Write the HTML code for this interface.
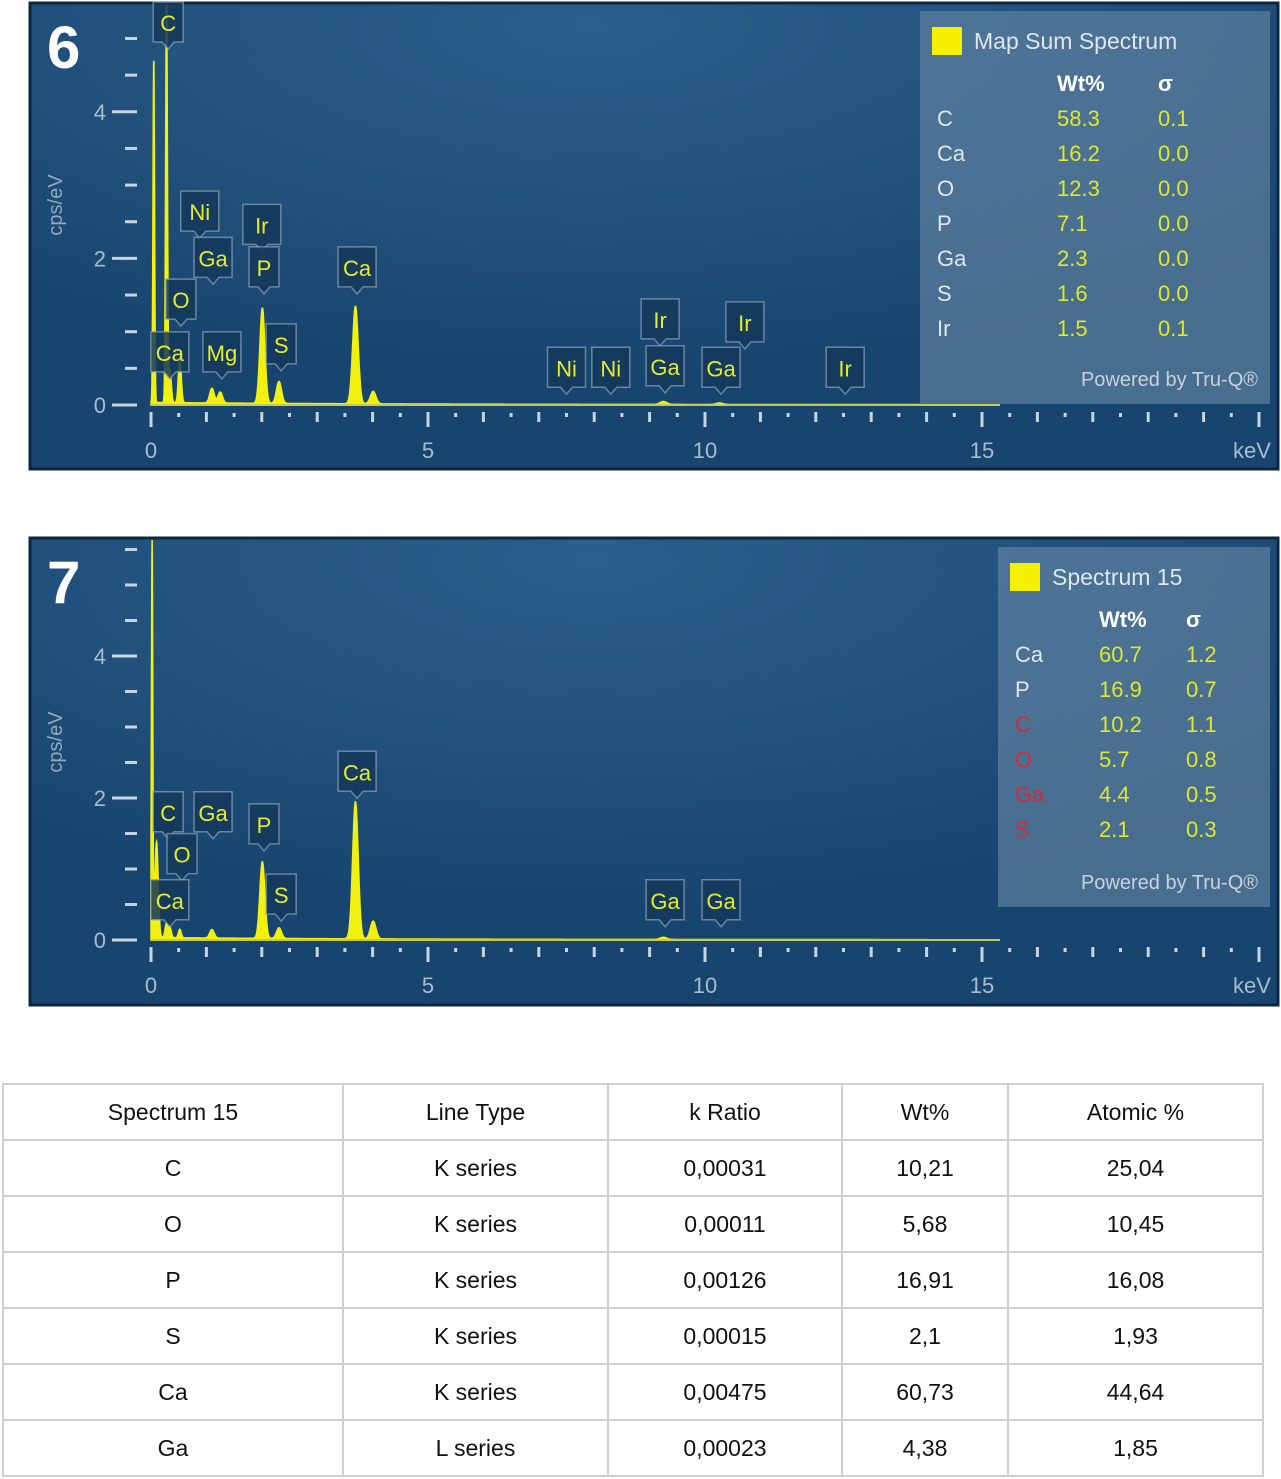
<!DOCTYPE html>
<html><head><meta charset="utf-8">
<style>
html,body{margin:0;padding:0;background:#fff;width:1281px;height:1479px;overflow:hidden;font-family:"Liberation Sans",sans-serif}
svg{position:absolute;left:0;top:0}
table{position:absolute;left:2px;top:1083px;border-collapse:collapse;font-family:"Liberation Sans",sans-serif;font-size:23px;color:#111}
td{border:2px solid #cfcfcf;text-align:center;height:54px;padding:0}
</style></head>
<body>
<svg id="chart" width="1281" height="1080"></svg>
<table>
<tr><td style="width:338px">Spectrum 15</td><td style="width:263px">Line Type</td><td style="width:232px">k Ratio</td><td style="width:164px">Wt%</td><td style="width:253px">Atomic %</td></tr>
<tr><td>C</td><td>K series</td><td>0,00031</td><td>10,21</td><td>25,04</td></tr>
<tr><td>O</td><td>K series</td><td>0,00011</td><td>5,68</td><td>10,45</td></tr>
<tr><td>P</td><td>K series</td><td>0,00126</td><td>16,91</td><td>16,08</td></tr>
<tr><td>S</td><td>K series</td><td>0,00015</td><td>2,1</td><td>1,93</td></tr>
<tr><td>Ca</td><td>K series</td><td>0,00475</td><td>60,73</td><td>44,64</td></tr>
<tr><td>Ga</td><td>L series</td><td>0,00023</td><td>4,38</td><td>1,85</td></tr>
</table>
<script>
// Panel 6 data
const p6PeakE=[0.05,0.28,0.34,0.52,1.1,1.25,2.01,2.31,3.69,4.01,9.25,10.26];
const p6PeakH=[4.7,5.6,0.45,0.6,0.2,0.15,1.3,0.3,1.33,0.17,0.04,0.02];
const p6PeakW=[0.014,0.016,0.025,0.026,0.04,0.04,0.045,0.045,0.05,0.05,0.06,0.06];
const p6LabelText=["C","Ni","Ga","Ir","P","O","Ca","Mg","S","Ca","Ni","Ni","Ir","Ga","Ga","Ir","Ir"];
const p6LabelE=[0.31,0.88,1.12,2.0,2.04,0.54,0.34,1.28,2.35,3.72,7.5,8.3,9.19,9.28,10.29,10.72,12.53];
const p6LabelV=[4.87,2.29,1.66,2.11,1.53,1.09,0.37,0.37,0.48,1.53,0.16,0.16,0.82,0.18,0.16,0.78,0.16];
const p6Elem=["C","Ca","O","P","Ga","S","Ir"];
const p6Wt=["58.3","16.2","12.3","7.1","2.3","1.6","1.5"];
const p6Sig=["0.1","0.0","0.0","0.0","0.0","0.0","0.1"];
// Panel 7 data
const p7PeakE=[0.02,0.1,0.28,0.34,0.52,1.1,2.01,2.31,3.69,4.01,9.25];
const p7PeakH=[5.6,1.35,0.2,0.15,0.12,0.12,1.08,0.15,1.93,0.25,0.03];
const p7PeakW=[0.012,0.03,0.025,0.025,0.025,0.04,0.045,0.045,0.05,0.05,0.06];
const p7LabelText=["C","Ga","P","O","Ca","S","Ca","Ga","Ga"];
const p7LabelE=[0.31,1.12,2.04,0.56,0.34,2.35,3.72,9.28,10.29];
const p7LabelV=[1.44,1.44,1.27,0.85,0.2,0.28,2.01,0.2,0.2];
const p7Elem=["Ca","P","C","O","Ga","S"];
const p7Wt=["60.7","16.9","10.2","5.7","4.4","2.1"];
const p7Sig=["1.2","0.7","1.1","0.8","0.5","0.3"];
const p7ElemRed=[false,false,true,true,true,true];
const yTickLabels=["0","2","4"];
const xTickLabels=["0","5","10","15"];

const NS="http://www.w3.org/2000/svg";
const svg=document.getElementById('chart');
function mk(tag,attrs,parent){const e=document.createElementNS(NS,tag);for(const k in attrs)e.setAttribute(k,attrs[k]);(parent||svg).appendChild(e);return e;}
const defs=mk('defs',{});
defs.innerHTML='<radialGradient id="bg" cx="0.45" cy="0.05" r="0.75"><stop offset="0" stop-color="#2c5f8c"/><stop offset="1" stop-color="#18456f"/></radialGradient>';

function panel(cfg){
  const g=mk('g',{});
  
  
  const X0=151,KX=55.4;
  const xs=e=>X0+KX*e;
  const ys=v=>cfg.y0-cfg.ky*v;
  const bg=mk('rect',{x:cfg.left,y:cfg.top,width:1248,height:cfg.h,fill:'url(#bg)',stroke:'#0e2740','stroke-width':3},g);
  
  const clipId='clip'+cfg.id;
  const cp=mk('clipPath',{id:clipId},defs);mk('rect',{x:cfg.left+2,y:cfg.top+2,width:1244,height:cfg.h-4},cp);
  for(let i=0;i<=11;i++){const v=i*0.5;const y=ys(v);if(y<cfg.top+5)continue;
    const major=i%4===0;
    mk('line',{x1:major?112:125,x2:137,y1:y,y2:y,stroke:'#c8d4de','stroke-width':3},g);}
  yTickLabels.forEach((t,i)=>{const tx=mk('text',{x:106,y:ys(i*2)+8,'text-anchor':'end','font-size':22,fill:'#a9bccc'},g);tx.textContent=t;
    });
  const yl=mk('text',{x:0,y:0,transform:`translate(62 ${cfg.yLabelY}) rotate(-90)`,'text-anchor':'middle','font-size':20,fill:'#93aabd'},g);yl.textContent='cps/eV';
  
  for(let i=0;i<=40;i++){const e=i*0.5;const x=xs(e);if(x>1272)break;
    const major=i%10===0,integ=i%2===0;
    const y2=cfg.y0+(major?22:integ?17:12);
    mk('line',{x1:x,x2:x,y1:cfg.y0+(integ?7:8),y2:y2,stroke:'#c8d4de','stroke-width':3},g);}
  xTickLabels.forEach((t,i)=>{const tx=mk('text',{x:xs(i*5),y:cfg.y0+53,'text-anchor':'middle','font-size':22,fill:'#a9bccc'},g);tx.textContent=t;
    });
  const kev=mk('text',{x:1252,y:cfg.y0+53,'text-anchor':'middle','font-size':22,fill:'#a9bccc'},g);kev.textContent='keV';
  
  let d=`M${xs(0)} ${ys(0)}`;
  for(let e=0;e<=cfg.maxE;e+=0.004){
    let v=0.03*Math.exp(-e/4)+0.005;
    for(let k=0;k<cfg.pe.length;k++){const z=(e-cfg.pe[k])/cfg.pw[k];v+=cfg.ph[k]*Math.exp(-0.5*z*z);}
    d+=`L${xs(e).toFixed(2)} ${ys(v).toFixed(2)}`;}
  d+=`L${xs(cfg.maxE)} ${ys(0)}Z`;
  const sp=mk('path',{d:d,fill:'#f2f00e',stroke:'#f2f00e','stroke-width':1.5,'clip-path':`url(#${clipId})`},g);
  
  mk('line',{x1:151,x2:1000,y1:cfg.y0,y2:cfg.y0,stroke:'#c9c94a','stroke-width':2},g);
  cfg.lt.forEach((t,i)=>{
    const cx=xs(cfg.le[i]),by=ys(cfg.lv[i]);const w=t.length>1?38:30,h=40;
    const lg=mk('g',{},g);
    
    
    mk('path',{d:`M${cx-w/2} ${by-h-6} h${w} v${h} h${-(w/2-6)} l-6 7 l-6 -7 h${-(w/2-6)} Z`,fill:'#14385a','fill-opacity':0.85,stroke:'#8ca3b8','stroke-opacity':0.7,'stroke-width':1.5},lg);
    const tx=mk('text',{x:cx,y:by-17,'text-anchor':'middle','font-size':22,fill:'#e6ec2a'},lg);tx.textContent=t;
  });
  const L=cfg.leg;
  const lgd=mk('g',{},g);
  
  
  mk('rect',{x:L.x,y:L.y,width:L.w,height:L.h,fill:'#6f8ea9','fill-opacity':0.55},lgd);
  mk('rect',{x:L.x+12,y:L.y+16,width:30,height:28,fill:'#f5ef00'},lgd);
  const tt=mk('text',{x:L.x+54,y:L.y+38,'font-size':23,fill:'#dfe6ec'},lgd);tt.textContent=cfg.title;
  const h1=mk('text',{x:L.c1,y:L.y+80,'font-size':22,'font-weight':'bold',fill:'#fff'},lgd);h1.textContent='Wt%';
  const h2=mk('text',{x:L.c2,y:L.y+80,'font-size':22,'font-weight':'bold',fill:'#fff'},lgd);h2.textContent='σ';
  cfg.el.forEach((el,i)=>{const y=L.y+115+i*35;
    const a=mk('text',{x:L.x+17,y:y,'font-size':22,fill:cfg.red&&cfg.red[i]?'#d8283c':'#dfe6ec'},lgd);a.textContent=el;
    
    const b=mk('text',{x:L.c1,y:y,'font-size':22,fill:'#dfe82a'},lgd);b.textContent=cfg.wt[i];
    const c=mk('text',{x:L.c2,y:y,'font-size':22,fill:'#dfe82a'},lgd);c.textContent=cfg.sg[i];});
  const pw=mk('text',{x:L.x+L.w-12,y:L.y+L.h-18,'text-anchor':'end','font-size':20,fill:'#c9d2db'},lgd);pw.textContent='Powered by Tru-Q®';
  const num=mk('text',{x:47,y:cfg.top+65,'font-size':60,'font-weight':'bold',fill:'#fff'},g);num.textContent=cfg.num;
  
}
panel({id:6,name:'spectrum-panel-6',num:'6',top:3,h:466,left:30,y0:405,ky:73.3,yLabelY:205,maxE:14,
  pe:p6PeakE,ph:p6PeakH,pw:p6PeakW,lt:p6LabelText,le:p6LabelE,lv:p6LabelV,title:'Map Sum Spectrum',
  el:p6Elem,wt:p6Wt,sg:p6Sig,leg:{x:920,y:11,w:350,h:393,c1:1057,c2:1158}});
panel({id:7,name:'spectrum-panel-7',num:'7',top:538,h:467,left:30,y0:940,ky:71,yLabelY:742,maxE:14,
  pe:p7PeakE,ph:p7PeakH,pw:p7PeakW,lt:p7LabelText,le:p7LabelE,lv:p7LabelV,title:'Spectrum 15',
  el:p7Elem,wt:p7Wt,sg:p7Sig,red:p7ElemRed,leg:{x:998,y:547,w:272,h:360,c1:1099,c2:1186}});
</script>
</body></html>
